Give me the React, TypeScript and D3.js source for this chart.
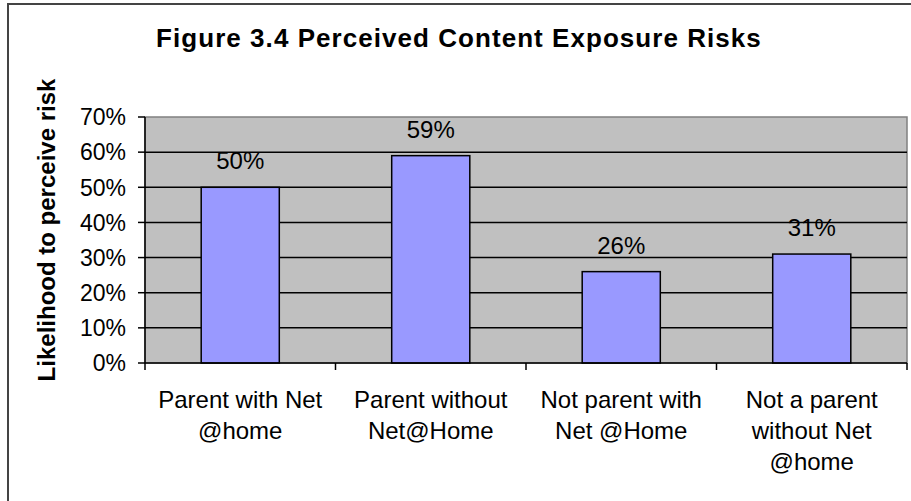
import React from "react";
import * as d3 from "d3";

const categories: string[][] = [
  ["Parent with Net", "@home"],
  ["Parent without", "Net@Home"],
  ["Not parent with", "Net @Home"],
  ["Not a parent", "without Net", "@home"],
];
const values: number[] = [0.5, 0.59, 0.26, 0.31];
const yTicks: number[] = [0, 0.1, 0.2, 0.3, 0.4, 0.5, 0.6, 0.7];
const title = "Figure 3.4  Perceived Content Exposure Risks";
const yTitle = "Likelihood to perceive risk";

const W = 911;
const H = 501;
const plot = { left: 145, right: 907, top: 117, bottom: 363 };
const plain = "'Liberation Sans', Arial, sans-serif";

export default function App() {
  const keys = categories.map((c) => c.join(" "));
  const x = d3
    .scaleBand<string>()
    .domain(keys)
    .range([plot.left, plot.right])
    .paddingInner(0.59)
    .paddingOuter(0.295);
  const y = d3.scaleLinear().domain([0, 0.7]).range([plot.bottom, plot.top]);
  const fmt = d3.format(".0%");
  const step = x.step();
  const boundaries = d3.range(keys.length + 1).map((i) => plot.left + i * step);

  return (
    <svg
      width={W}
      height={H}
      style={{ position: "absolute", left: 0, top: 0, background: "#fff" }}
    >
      <rect x={0} y={0} width={W} height={H} fill="#fff" />
      {/* outer frame */}
      <path d={`M8,${H + 5} L8,4 L${W + 5},4`} fill="none" stroke="#444" strokeWidth={2} />

      {/* title */}
      <text
        x={459}
        y={47}
        textAnchor="middle"
        fontFamily={plain}
        fontWeight="bold"
        fontSize={26}
        letterSpacing={1.05}
        fill="#000"
      >
        {title}
      </text>

      {/* y-axis title */}
      <text
        transform={`translate(55,${(75 + 385) / 2}) rotate(-90)`}
        textAnchor="middle"
        fontFamily={plain}
        fontWeight="bold"
        fontSize={24}
        fill="#000"
      >
        {yTitle}
      </text>

      {/* plot area */}
      <rect
        x={plot.left}
        y={plot.top}
        width={plot.right - plot.left}
        height={plot.bottom - plot.top}
        fill="#c0c0c0"
        stroke="#808080"
        strokeWidth={1.5}
      />

      {/* gridlines */}
      {yTicks
        .filter((t) => t > 0 && t < 0.7)
        .map((t) => (
          <line
            key={"g" + t}
            x1={plot.left}
            x2={plot.right}
            y1={y(t)}
            y2={y(t)}
            stroke="#000"
            strokeWidth={1.5}
          />
        ))}

      {/* bars */}
      {values.map((v, i) => (
        <rect
          key={"b" + i}
          x={x(keys[i])}
          y={y(v)}
          width={x.bandwidth()}
          height={y(0) - y(v)}
          fill="#9999ff"
          stroke="#000"
          strokeWidth={1.5}
        />
      ))}

      {/* value labels */}
      {values.map((v, i) => (
        <text
          key={"v" + i}
          x={(x(keys[i]) as number) + x.bandwidth() / 2}
          y={y(v) - 18}
          textAnchor="middle"
          fontFamily={plain}
          fontSize={24}
          fill="#000"
        >
          {fmt(v)}
        </text>
      ))}

      {/* y axis */}
      <line x1={plot.left} x2={plot.left} y1={plot.top} y2={plot.bottom} stroke="#000" strokeWidth={1.5} />
      {yTicks.map((t) => (
        <g key={"t" + t}>
          <line x1={plot.left - 7} x2={plot.left} y1={y(t)} y2={y(t)} stroke="#000" strokeWidth={1.5} />
          <text
            x={126}
            y={y(t)}
            dy="0.36em"
            textAnchor="end"
            fontFamily={plain}
            fontSize={23}
            fill="#000"
          >
            {fmt(t)}
          </text>
        </g>
      ))}

      {/* x axis */}
      <line x1={plot.left} x2={plot.right} y1={plot.bottom} y2={plot.bottom} stroke="#000" strokeWidth={1.5} />
      {boundaries.map((b, i) => (
        <line key={"xt" + i} x1={b} x2={b} y1={plot.bottom} y2={plot.bottom + 7} stroke="#000" strokeWidth={1.5} />
      ))}
      {categories.map((lines, i) => (
        <text
          key={"c" + i}
          x={(x(keys[i]) as number) + x.bandwidth() / 2}
          y={408}
          textAnchor="middle"
          fontFamily={plain}
          fontSize={24}
          fill="#000"
        >
          {lines.map((l, j) => (
            <tspan key={j} x={(x(keys[i]) as number) + x.bandwidth() / 2} y={408 + j * 31}>
              {l}
            </tspan>
          ))}
        </text>
      ))}
    </svg>
  );
}
